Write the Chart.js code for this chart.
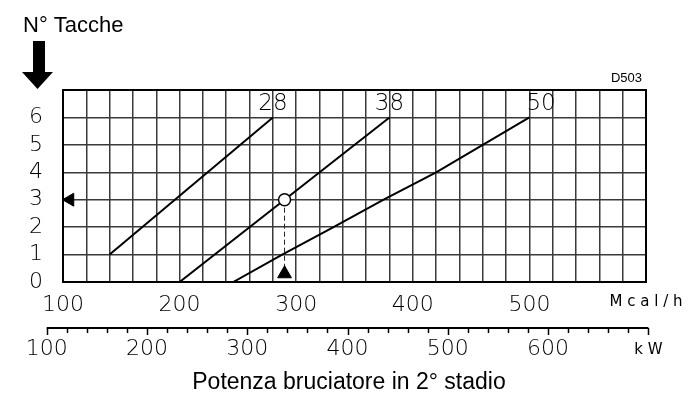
<!DOCTYPE html>
<html>
<head>
<meta charset="utf-8">
<script src="https://cdn.jsdelivr.net/npm/chart.js@4.4.1/dist/chart.umd.min.js"></script>
<style>
  html, body { margin: 0; padding: 0; background: #fff; }
</style>
</head>
<body>
<canvas id="chart" width="699" height="394"></canvas>
<script>
// axis values
const yLabels = [0, 1, 2, 3, 4, 5, 6];
const mcalLabels = [100, 200, 300, 400, 500];
const kwLabels = [100, 200, 300, 400, 500, 600];
const kwMinor = 20;
const KW_TO_MCAL = 0.86;

// curves (Mcal/h, n° tacche)
const curve28X = [140, 280];
const curve28Y = [1, 6];
const curve38X = [200, 380];
const curve38Y = [0, 6];
const curve50X = [246, 288, 332, 375, 420, 460, 500];
const curve50Y = [0, 1, 2, 3, 4, 5, 6];
const curveNames = ["28", "38", "50"];
const curveNameX = [280, 380, 510];
const curveNameY = 6.5;

// working point example
const workX = 290;
const workY = 3;
const arrowUpY = 0.3;
const arrowLeftX = 106;

const TECH = "'DejaVu Sans'";
const pts = (xs, ys) => xs.map((x, i) => ({ x: x, y: ys[i] }));

const curve = (xs, ys) => ({
  data: pts(xs, ys),
  showLine: true,
  borderColor: "#000",
  borderWidth: 2,
  pointRadius: 0,
  fill: false,
});

const extras = {
  id: "extras",
  beforeDatasetsDraw(chart) {
    const { ctx, chartArea: a } = chart;
    ctx.save();
    ctx.strokeStyle = "#000";
    ctx.lineWidth = 2;
    ctx.strokeRect(a.left, a.top, a.right - a.left, a.bottom - a.top);
    ctx.restore();
  },
  afterDraw(chart) {
    const { ctx } = chart;
    const x = chart.scales.x;
    const y = chart.scales.y;
    ctx.save();

    // curve names
    ctx.fillStyle = "#000";
    ctx.font = "200 23px " + TECH;
    ctx.textAlign = "center";
    ctx.textBaseline = "middle";
    curveNames.forEach((n, i) => {
      ctx.fillText(n, x.getPixelForValue(curveNameX[i]), y.getPixelForValue(curveNameY));
    });

    // unit of first axis
    ctx.font = "15px " + TECH;
    ctx.fillText("M c a l / h", x.getPixelForValue(600), 302);

    // kW axis
    const ky = 328;
    const k0 = x.getPixelForValue(100 * KW_TO_MCAL);
    const k1 = x.getPixelForValue(700 * KW_TO_MCAL);
    ctx.strokeStyle = "#000";
    ctx.lineWidth = 2;
    ctx.beginPath();
    ctx.moveTo(k0, ky);
    ctx.lineTo(k1, ky);
    ctx.stroke();
    ctx.lineWidth = 1.5;
    for (let kw = 100; kw <= 700; kw += kwMinor) {
      const px = Math.round(x.getPixelForValue(kw * KW_TO_MCAL)) + 0.5;
      ctx.beginPath();
      ctx.moveTo(px, ky);
      ctx.lineTo(px, ky + (kw % 100 === 0 ? 7 : 5));
      ctx.stroke();
    }
    ctx.font = "200 22px " + TECH;
    kwLabels.forEach((kw) => {
      ctx.fillText(String(kw), x.getPixelForValue(kw * KW_TO_MCAL), 349);
    });
    ctx.font = "15px " + TECH;
    ctx.fillText("k W", x.getPixelForValue(700 * KW_TO_MCAL), 350);

    // titles
    ctx.font = "23px 'Liberation Sans', Arial, sans-serif";
    ctx.textBaseline = "alphabetic";
    ctx.fillText("Potenza bruciatore in 2° stadio", 349, 389);
    ctx.textAlign = "left";
    ctx.font = "22px 'Liberation Sans', Arial, sans-serif";
    ctx.fillText("N° Tacche", 23, 32);
    ctx.textAlign = "right";
    ctx.font = "13px 'Liberation Sans', Arial, sans-serif";
    ctx.fillText("D503", 642, 82);

    // big arrow
    ctx.fillRect(33, 41, 12, 31);
    ctx.beginPath();
    ctx.moveTo(22, 72);
    ctx.lineTo(53, 72);
    ctx.lineTo(37.5, 89);
    ctx.closePath();
    ctx.fill();
    ctx.restore();
  },
};

new Chart(document.getElementById("chart"), {
  type: "scatter",
  data: {
    datasets: [
      {
        data: [{ x: workX, y: workY }],
        pointStyle: "circle",
        pointRadius: 6,
        pointBackgroundColor: "#fff",
        pointBorderColor: "#000",
        pointBorderWidth: 1.5,
      },
      {
        data: [{ x: workX, y: arrowUpY }],
        pointStyle: "triangle",
        pointRadius: 8,
        pointBackgroundColor: "#000",
        pointBorderColor: "#000",
        pointBorderWidth: 1,
      },
      {
        data: [{ x: arrowLeftX, y: workY }],
        pointStyle: "triangle",
        rotation: -90,
        pointRadius: 7.5,
        pointBackgroundColor: "#000",
        pointBorderColor: "#000",
        pointBorderWidth: 1,
      },
      {
        data: [{ x: workX, y: workY }, { x: workX, y: arrowUpY }],
        showLine: true,
        borderColor: "#222",
        borderWidth: 1,
        borderDash: [5, 3],
        pointRadius: 0,
      },
      curve(curve28X, curve28Y),
      curve(curve38X, curve38Y),
      curve(curve50X, curve50Y),
    ],
  },
  options: {
    responsive: false,
    animation: false,
    devicePixelRatio: 1,
    layout: { padding: { top: 90, right: 53, left: 0, bottom: 0 } },
    plugins: { legend: { display: false }, tooltip: { enabled: false } },
    scales: {
      x: {
        type: "linear",
        min: 100,
        max: 600,
        afterFit: (s) => { s.height = 112; },
        grid: { color: "#3a3a3a", lineWidth: 1.5, drawTicks: false },
        border: { color: "#000", width: 2 },
        ticks: {
          stepSize: 20,
          autoSkip: false,
          maxRotation: 0,
          padding: 10,
          color: "#000",
          font: { family: TECH, size: 22, weight: "200" },
          callback: (v) => (mcalLabels.includes(v) ? String(v) : ""),
        },
      },
      y: {
        min: 0,
        max: 7,
        afterFit: (s) => { s.width = 63; },
        grid: { color: "#3a3a3a", lineWidth: 1.5, drawTicks: false },
        border: { color: "#000", width: 2 },
        ticks: {
          stepSize: 1,
          autoSkip: false,
          padding: 20,
          color: "#000",
          font: { family: TECH, size: 22, weight: "200" },
          callback: (v) => (yLabels.includes(v) ? String(v) : ""),
        },
      },
    },
  },
  plugins: [extras],
});
</script>
</body>
</html>
